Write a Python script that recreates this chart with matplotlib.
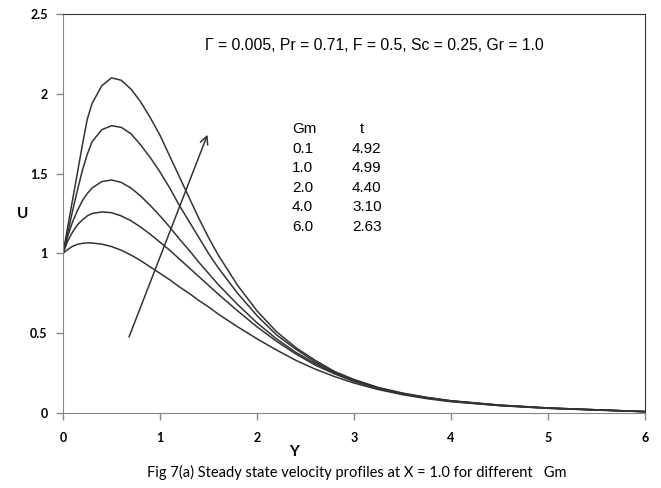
import numpy as np
import matplotlib
matplotlib.use('Agg')
from matplotlib import pyplot as plt

y_pts = [0.0, 0.05, 0.1, 0.15, 0.2, 0.25, 0.3, 0.4, 0.5, 0.6, 0.7, 0.8, 0.9,
         1.0, 1.1, 1.2, 1.3, 1.4, 1.5, 1.6, 1.8, 2.0, 2.2, 2.4, 2.6, 2.8, 3.0,
         3.25, 3.5, 3.75, 4.0, 4.5, 5.0, 5.5, 6.0]

# velocity profiles U(Y), one list per Gm value
u_gm01 = [1.0, 1.025, 1.045, 1.057, 1.063, 1.066, 1.065, 1.058, 1.043, 1.02,
          0.99, 0.955, 0.915, 0.875, 0.835, 0.79, 0.75, 0.705, 0.665, 0.62,
          0.54, 0.465, 0.395, 0.33, 0.275, 0.228, 0.188,
          0.147, 0.115, 0.09, 0.071, 0.046, 0.029, 0.018, 0.008]
u_gm10 = [1.0, 1.08, 1.135, 1.18, 1.21, 1.235, 1.25, 1.26, 1.255, 1.235,
          1.205, 1.165, 1.12, 1.07, 1.02, 0.965, 0.91, 0.855, 0.80, 0.745,
          0.64, 0.54, 0.45, 0.37, 0.30, 0.245, 0.198,
          0.152, 0.118, 0.093, 0.073, 0.047, 0.03, 0.019, 0.008]
u_gm20 = [1.0, 1.11, 1.20, 1.27, 1.33, 1.375, 1.41, 1.45, 1.46, 1.445,
          1.41, 1.36, 1.30, 1.235, 1.165, 1.09, 1.02, 0.945, 0.875, 0.805,
          0.68, 0.565, 0.465, 0.38, 0.31, 0.25, 0.202,
          0.155, 0.121, 0.095, 0.075, 0.048, 0.031, 0.02, 0.009]
u_gm40 = [1.0, 1.13, 1.27, 1.40, 1.52, 1.62, 1.70, 1.775, 1.80, 1.79,
          1.75, 1.68, 1.60, 1.51, 1.41, 1.30, 1.20, 1.10, 1.00, 0.91,
          0.75, 0.61, 0.49, 0.40, 0.32, 0.255, 0.205,
          0.158, 0.123, 0.097, 0.076, 0.049, 0.031, 0.02, 0.009]
u_gm60 = [1.0, 1.17, 1.34, 1.51, 1.68, 1.84, 1.94, 2.05, 2.10, 2.085,
          2.03, 1.95, 1.85, 1.74, 1.61, 1.48, 1.35, 1.22, 1.10, 0.99,
          0.80, 0.64, 0.51, 0.41, 0.33, 0.26, 0.21,
          0.16, 0.125, 0.098, 0.077, 0.05, 0.032, 0.02, 0.009]

gm_vals = ['0.1', '1.0', '2.0', '4.0', '6.0']
t_vals = ['4.92', '4.99', '4.40', '3.10', '2.63']

fig = plt.figure(figsize=(6.61, 4.88), dpi=100)
ax = fig.add_axes([63 / 661, 1 - 413 / 488, 582 / 661, 399 / 488])

for u in [u_gm01, u_gm10, u_gm20, u_gm40, u_gm60]:
    ax.plot(y_pts, u, color='#333333', lw=1.1)

ax.set_xlim(0, 6)
ax.set_ylim(0, 2.5)
ax.set_xticks([0, 1, 2, 3, 4, 5, 6])
ax.set_yticks([0, 0.5, 1, 1.5, 2, 2.5])
ax.set_yticklabels(['0', '0.5', '1', '1.5', '2', '2.5'])

for s in ['left', 'bottom']:
    ax.spines[s].set_color('#888888')
for s in ['top', 'right']:
    ax.spines[s].set_color('#333333')
ax.tick_params(axis='both', colors='#888888', length=5, width=1,
               labelcolor='black', labelsize=9)
ax.tick_params(axis='x', pad=9)
ax.tick_params(axis='y', pad=6)
for lbl in ax.get_xticklabels() + ax.get_yticklabels():
    lbl.set_family('Lato')
    lbl.set_fontweight('bold')

# axis titles sit where the original put them
ax.text(2.38, -0.245, 'Y', fontsize=11, fontweight='bold', family='Lato',
        ha='center', va='center', clip_on=False)
ax.text(-0.42, 1.25, 'U', fontsize=11, fontweight='bold', family='Lato',
        ha='center', va='center', clip_on=False)

# parameter line and table of Gm / t
ax.text(1.46, 2.30, '\u0393 = 0.005, Pr = 0.71, F = 0.5, Sc = 0.25, Gr = 1.0',
        family='Liberation Sans', fontsize=11.3, va='center', ha='left')
ax.text(2.36, 1.78, 'Gm', family='Liberation Sans', fontsize=11, va='center')
ax.text(3.06, 1.78, 't', family='Liberation Sans', fontsize=11, va='center')
for i, (g, t) in enumerate(zip(gm_vals, t_vals)):
    yy = 1.654 - i * 0.1216
    ax.text(2.36, yy, g, family='Liberation Sans', fontsize=11, va='center')
    ax.text(2.98, yy, t, family='Liberation Sans', fontsize=11, va='center')

ax.annotate('', xy=(1.5, 1.76), xytext=(0.67, 0.46),
            arrowprops=dict(arrowstyle='->', color='#333333', lw=1.1,
                            mutation_scale=14))

fig.text(357 / 661, 1 - 472 / 488,
         'Fig 7(a) Steady state velocity profiles at X = 1.0 for different   Gm',
         family='Lato', fontsize=10.5, ha='center', va='center')

fig.savefig('out.png', dpi=100)
